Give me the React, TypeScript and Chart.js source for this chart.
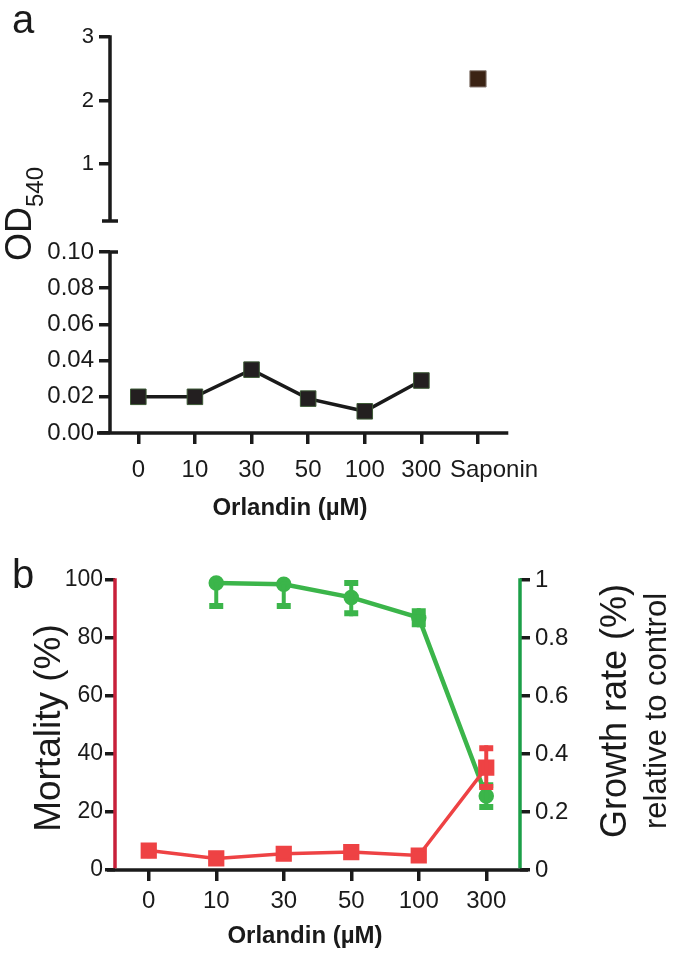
import React, { useEffect, useRef } from 'react';
import { Chart, registerables, LinearScale } from 'chart.js';

const FONT = '"Liberation Sans", Arial, Helvetica, sans-serif';
const INK = '#1a1a1a';

// ---------- Panel a data ----------
const A_CATEGORIES = ['0', '10', '30', '50', '100', '300', 'Saponin'];
const A_OD_VALUES = [0.02, 0.02, 0.035, 0.019, 0.012, 0.029, null];
const A_SAPONIN_VALUES = [null, null, null, null, null, null, 2.34];
const A_LOW_TICKS = [0, 0.02, 0.04, 0.06, 0.08, 0.1];
const A_HIGH_TICKS = [1, 2, 3];
const A_LOW_RANGE = [0, 0.1];
const A_HIGH_RANGE = [0.1, 3];

// ---------- Panel b data ----------
const B_CATEGORIES = ['0', '10', '30', '50', '100', '300'];
const B_MORTALITY = [6.7, 4.0, 5.6, 6.2, 5.0, 35.3];
const B_MORTALITY_ERR = [2.6, 0.8, 0.8, 0.8, 0.8, 7.7];
const B_GROWTH = [null, 0.99, 0.985, 0.94, 0.87, 0.255];
const B_GROWTH_ERR_LOW = [0, 0.09, 0.085, 0.065, 0.033, 0.048];
const B_GROWTH_ERR_HIGH = [0, 0, 0, 0.06, 0.033, 0.048];
const B_MORT_RANGE = [0, 100];
const B_GROWTH_RANGE = [0, 1];

// layout fractions of the broken axis (high segment / low segment)
const SEG_HIGH = 184 / 396;
const SEG_LOW = 181 / 396;

class BrokenScale extends LinearScale {
  static id = 'broken';
  static defaults = LinearScale.defaults;
  buildTicks() {
    return [...A_LOW_TICKS, ...A_HIGH_TICKS].map((value) => ({ value }));
  }
  getPixelForValue(value: number) {
    const h = this.bottom - this.top;
    if (value <= A_LOW_RANGE[1]) {
      return this.bottom - ((value - A_LOW_RANGE[0]) / (A_LOW_RANGE[1] - A_LOW_RANGE[0])) * h * SEG_LOW;
    }
    const hh = h * SEG_HIGH;
    return this.top + hh - ((value - A_HIGH_RANGE[0]) / (A_HIGH_RANGE[1] - A_HIGH_RANGE[0])) * hh;
  }
  getValueForPixel(pixel: number) {
    const h = this.bottom - this.top;
    const lowTop = this.bottom - h * SEG_LOW;
    if (pixel >= lowTop) {
      return A_LOW_RANGE[0] + ((this.bottom - pixel) / (h * SEG_LOW)) * (A_LOW_RANGE[1] - A_LOW_RANGE[0]);
    }
    const hh = h * SEG_HIGH;
    return A_HIGH_RANGE[0] + ((this.top + hh - pixel) / hh) * (A_HIGH_RANGE[1] - A_HIGH_RANGE[0]);
  }
}

Chart.register(...registerables, BrokenScale);

const errorBarPlugin = {
  id: 'errorBars',
  afterDatasetDraw(chart: any, args: any) {
    const ds = chart.data.datasets[args.index];
    if (!ds.errLow) return;
    const meta = args.meta;
    const ys = chart.scales[meta.yAxisID];
    const ctx = chart.ctx;
    ctx.save();
    ctx.strokeStyle = ds.borderColor;
    ctx.lineCap = 'butt';
    ds.data.forEach((v: number | null, i: number) => {
      if (v == null) return;
      const lo = ds.errLow[i] || 0;
      const hi = ds.errHigh[i] || 0;
      const x = meta.data[i].x;
      const yt = ys.getPixelForValue(v + hi);
      const yb = ys.getPixelForValue(v - lo);
      ctx.lineWidth = 4;
      ctx.beginPath();
      ctx.moveTo(x, yt);
      ctx.lineTo(x, yb);
      ctx.stroke();
      ctx.lineWidth = 6;
      ctx.beginPath();
      if (hi > 0) {
        ctx.moveTo(x - 7, yt + 3);
        ctx.lineTo(x + 7, yt + 3);
      }
      if (lo > 0) {
        ctx.moveTo(x - 7, yb - 3);
        ctx.lineTo(x + 7, yb - 3);
      }
      ctx.stroke();
    });
    ctx.restore();
  },
};

const panelAPlugin = {
  id: 'panelA',
  beforeDatasetsDraw(chart: any) {
    const { ctx, chartArea: ca } = chart;
    const ys = chart.scales.y;
    const h = ys.bottom - ys.top;
    const hiBottom = ys.top + h * SEG_HIGH;
    const loTop = ys.bottom - h * SEG_LOW;
    ctx.save();
    ctx.strokeStyle = INK;
    ctx.lineWidth = 3.5;
    ctx.beginPath();
    ctx.moveTo(ca.left, ys.top - 1.75);
    ctx.lineTo(ca.left, hiBottom);
    ctx.moveTo(ca.left, loTop - 1.75);
    ctx.lineTo(ca.left, ys.bottom);
    ctx.moveTo(ca.left - 8, hiBottom);
    ctx.lineTo(ca.left + 8, hiBottom);
    ctx.moveTo(ca.left - 1, loTop);
    ctx.lineTo(ca.left + 8, loTop);
    ctx.moveTo(ca.left - 13, ca.bottom);
    ctx.lineTo(ca.right + 2, ca.bottom);
    ctx.stroke();
    ctx.restore();
  },
  afterDraw(chart: any) {
    const { ctx } = chart;
    const xs = chart.scales.x;
    ctx.save();
    ctx.fillStyle = INK;
    // last category label sits to the right of its tick in the original figure
    ctx.font = `24px ${FONT}`;
    ctx.textAlign = 'left';
    ctx.textBaseline = 'middle';
    const last = A_CATEGORIES.length - 1;
    ctx.fillText(A_CATEGORIES[last], xs.getPixelForTick(last) - 28, 470);
    ctx.textBaseline = 'alphabetic';
    ctx.font = `40px ${FONT}`;
    ctx.fillText('a', 12, 33);
    // x title
    ctx.font = `bold 24px ${FONT}`;
    ctx.textAlign = 'center';
    ctx.textBaseline = 'middle';
    ctx.fillText('Orlandin (\u00b5M)', 290, 508);
    // y title OD540
    ctx.translate(31, 214);
    ctx.rotate(-Math.PI / 2);
    ctx.textAlign = 'left';
    ctx.textBaseline = 'alphabetic';
    const f1 = `36px ${FONT}`;
    const f2 = `24px ${FONT}`;
    ctx.font = f1;
    const w1 = ctx.measureText('OD').width;
    ctx.font = f2;
    const w2 = ctx.measureText('540').width;
    const s = -(w1 + w2) / 2;
    ctx.font = f1;
    ctx.fillText('OD', s, 0);
    ctx.font = f2;
    ctx.fillText('540', s + w1, 12);
    ctx.restore();
  },
};

const panelBPlugin = {
  id: 'panelB',
  beforeDatasetsDraw(chart: any) {
    const { ctx, chartArea: ca } = chart;
    ctx.save();
    ctx.lineWidth = 3.5;
    ctx.strokeStyle = INK;
    ctx.beginPath();
    ctx.moveTo(ca.left - 8, ca.bottom);
    ctx.lineTo(ca.right + 8, ca.bottom);
    ctx.stroke();
    ctx.strokeStyle = '#c8203a';
    ctx.beginPath();
    ctx.moveTo(ca.left, ca.top - 1.75);
    ctx.lineTo(ca.left, ca.bottom - 1.75);
    ctx.stroke();
    ctx.strokeStyle = '#1c9f48';
    ctx.beginPath();
    ctx.moveTo(ca.right, ca.top - 1.75);
    ctx.lineTo(ca.right, ca.bottom - 1.75);
    ctx.stroke();
    ctx.restore();
  },
  afterDraw(chart: any) {
    const { ctx } = chart;
    ctx.save();
    ctx.fillStyle = INK;
    ctx.textAlign = 'left';
    ctx.textBaseline = 'alphabetic';
    ctx.font = `40px ${FONT}`;
    ctx.fillText('b', 12, 48);
    ctx.font = `bold 24px ${FONT}`;
    ctx.textAlign = 'center';
    ctx.textBaseline = 'middle';
    ctx.fillText('Orlandin (\u00b5M)', 305, 396);
    ctx.textBaseline = 'alphabetic';
    // left title
    ctx.save();
    ctx.translate(60, 188);
    ctx.rotate(-Math.PI / 2);
    ctx.font = `37px ${FONT}`;
    ctx.fillText('Mortality (%)', 0, 0);
    ctx.restore();
    // right title
    ctx.save();
    ctx.translate(626, 171);
    ctx.rotate(-Math.PI / 2);
    ctx.font = `36px ${FONT}`;
    ctx.fillText('Growth rate (%)', 0, 0);
    ctx.restore();
    ctx.save();
    ctx.translate(666, 171);
    ctx.rotate(-Math.PI / 2);
    ctx.font = `31px ${FONT}`;
    ctx.fillText('relative to control', 0, 0);
    ctx.restore();
    ctx.restore();
  },
};

function makeChartA(canvas: HTMLCanvasElement) {
  return new Chart(canvas, {
    type: 'line',
    data: {
      labels: A_CATEGORIES,
      datasets: [
        {
          data: A_OD_VALUES,
          borderColor: INK,
          borderWidth: 3.5,
          pointStyle: 'rect',
          pointRadius: 11,
          pointBackgroundColor: '#231f20',
          pointBorderColor: '#3d5a36',
          pointBorderWidth: 1,
          clip: false,
        } as any,
        {
          data: A_SAPONIN_VALUES,
          showLine: false,
          pointStyle: 'rect',
          pointRadius: 11.5,
          pointBackgroundColor: '#3b2314',
          pointBorderColor: '#8c7f78',
          pointBorderWidth: 1,
          clip: false,
        } as any,
      ],
    },
    options: {
      animation: false,
      responsive: false,
      events: [],
      layout: { padding: { top: 37, left: 0, right: 675 - 506.3, bottom: 0 } },
      plugins: { legend: { display: false }, tooltip: { enabled: false } },
      scales: {
        x: {
          type: 'category',
          offset: true,
          afterFit: (s: any) => {
            s.height = 107;
          },
          border: { display: false },
          grid: { offset: false, drawOnChartArea: false, drawTicks: true, tickLength: 11, lineWidth: 3.5, color: INK },
          ticks: {
            color: INK,
            font: { family: FONT, size: 24 },
            padding: 12,
            maxRotation: 0,
            autoSkip: false,
            callback: (_v: any, i: number) => (i === A_CATEGORIES.length - 1 ? '' : A_CATEGORIES[i]),
          },
        },
        y: {
          type: 'broken',
          min: 0,
          max: 3,
          afterFit: (s: any) => {
            s.width = 110;
          },
          border: { display: false },
          grid: { drawOnChartArea: false, drawTicks: true, tickLength: 11, lineWidth: 3.5, color: INK },
          ticks: {
            color: INK,
            autoSkip: false,
            padding: 5,
            font: (c: any) => ({ family: FONT, size: c.tick && c.tick.value > 0.1 ? 22 : 24 }),
            callback: (v: any) => (Number(v) <= 0.1 ? Number(v).toFixed(2) : String(v)),
          },
        } as any,
      },
    },
    plugins: [panelAPlugin],
  } as any);
}

function makeChartB(canvas: HTMLCanvasElement) {
  return new Chart(canvas, {
    type: 'line',
    data: {
      labels: B_CATEGORIES,
      datasets: [
        {
          data: B_GROWTH,
          yAxisID: 'y1',
          borderColor: '#3bb54a',
          borderWidth: 4.5,
          pointStyle: 'circle',
          pointRadius: 5.5,
          pointBackgroundColor: '#3bb54a',
          pointBorderColor: '#3bb54a',
          order: 2,
          clip: false,
          errLow: B_GROWTH_ERR_LOW,
          errHigh: B_GROWTH_ERR_HIGH,
        } as any,
        {
          data: B_MORTALITY,
          yAxisID: 'y',
          borderColor: '#ee4244',
          borderWidth: 3.5,
          pointStyle: 'rect',
          pointRadius: 9,
          pointBackgroundColor: '#ee4244',
          pointBorderColor: '#ee4244',
          order: 1,
          clip: false,
          errLow: B_MORTALITY_ERR,
          errHigh: B_MORTALITY_ERR,
        } as any,
      ],
    },
    options: {
      animation: false,
      responsive: false,
      events: [],
      layout: { padding: { top: 40, left: 0, right: 0, bottom: 0 } },
      plugins: { legend: { display: false }, tooltip: { enabled: false } },
      scales: {
        x: {
          type: 'category',
          offset: true,
          afterFit: (s: any) => {
            s.height = 85;
          },
          border: { display: false },
          grid: { offset: false, drawOnChartArea: false, drawTicks: true, tickLength: 11, lineWidth: 3.5, color: INK },
          ticks: { color: INK, font: { family: FONT, size: 24 }, padding: 6, maxRotation: 0, autoSkip: false },
        },
        y: {
          type: 'linear',
          position: 'left',
          min: B_MORT_RANGE[0],
          max: B_MORT_RANGE[1],
          afterFit: (s: any) => {
            s.width = 115;
          },
          border: { display: false },
          grid: { drawOnChartArea: false, drawTicks: true, tickLength: 10, lineWidth: 3.5, color: INK },
          ticks: { stepSize: 20, color: INK, padding: 2, font: { family: FONT, size: 23 } },
        },
        y1: {
          type: 'linear',
          position: 'right',
          min: B_GROWTH_RANGE[0],
          max: B_GROWTH_RANGE[1],
          afterFit: (s: any) => {
            s.width = 155;
          },
          border: { display: false },
          grid: { drawOnChartArea: false, drawTicks: true, tickLength: 10, lineWidth: 3.5, color: INK },
          ticks: {
            stepSize: 0.2,
            color: INK,
            padding: 5,
            font: { family: FONT, size: 24 },
            callback: (v: any) => {
              const n = Number(v);
              return n === 0 || n === 1 ? String(n) : n.toFixed(1);
            },
          },
        },
      },
    },
    plugins: [errorBarPlugin, panelBPlugin],
  } as any);
}

export default function App() {
  const refA = useRef<HTMLCanvasElement>(null);
  const refB = useRef<HTMLCanvasElement>(null);
  useEffect(() => {
    const a = makeChartA(refA.current!);
    const b = makeChartB(refB.current!);
    return () => {
      a.destroy();
      b.destroy();
    };
  }, []);
  return (
    <div style={{ position: 'absolute', left: 0, top: 0, width: 675, height: 955, background: '#ffffff' }}>
      <canvas ref={refA} width={675} height={540} style={{ position: 'absolute', left: 0, top: 0, width: 675, height: 540 }} />
      <canvas ref={refB} width={675} height={415} style={{ position: 'absolute', left: 0, top: 540, width: 675, height: 415 }} />
    </div>
  );
}
